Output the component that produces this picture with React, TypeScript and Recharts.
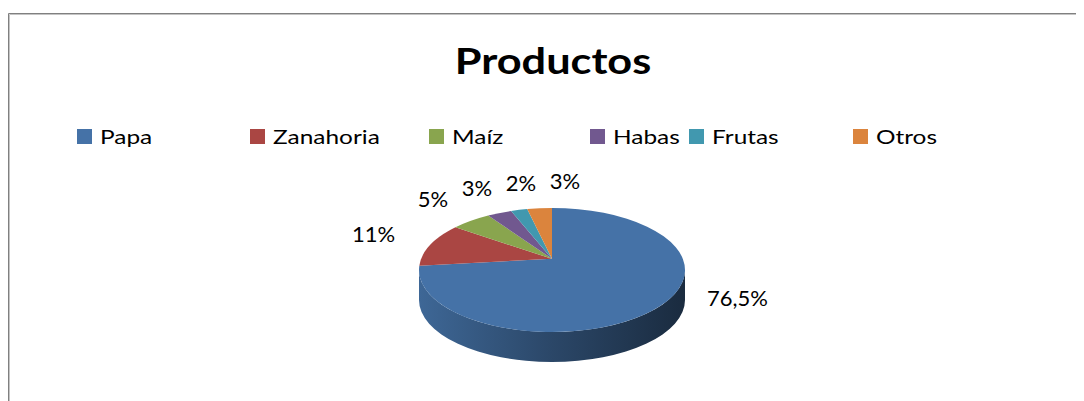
import React from 'react';
import { PieChart, Pie, Cell, Legend } from 'recharts';

const categories = ['Papa', 'Zanahoria', 'Maíz', 'Habas', 'Frutas', 'Otros'];
const shares = [76.5, 11, 5, 3, 2, 3];
const colors = ['#4572A7', '#AA4643', '#89A54E', '#71588F', '#4198AF', '#DB843D'];
const chartTitle = 'Productos';

const data = categories.map((name, i) => ({ name, value: shares[i] }));

const W = 1076;
const H = 393;
const FONT = 'Lato, "Open Sans", sans-serif';
const TILT = 62 / 133;
const DEPTH = 30;
const APEX_LIFT = 0.18;
const RAD = Math.PI / 180;
const legendColumns = [69, 242, 421, 582, 681, 845];

function shade(hex: string, f: number) {
  const n = parseInt(hex.slice(1), 16);
  const r = Math.round(((n >> 16) & 255) * f);
  const g = Math.round(((n >> 8) & 255) * f);
  const b = Math.round((n & 255) * f);
  return `rgb(${r},${g},${b})`;
}

const fmt = (v: number) => String(v).replace('.', ',') + '%';

const Slice3D = (props: any) => {
  const { cx, cy, outerRadius, startAngle, endAngle, fill, index } = props;
  const rx = outerRadius;
  const ry = outerRadius * TILT;
  const apexY = cy - ry * APEX_LIFT;
  const p = (a: number, dy = 0) => [cx + rx * Math.cos(a * RAD), cy - ry * Math.sin(a * RAD) + dy];
  const a1 = startAngle;
  const a2 = endAngle;
  const large = Math.abs(a2 - a1) > 180 ? 1 : 0;
  const sweep = a2 < a1 ? 1 : 0;
  const [x1, y1] = p(a1);
  const [x2, y2] = p(a2);
  const top = `M${cx},${apexY} L${x1},${y1} A${rx},${ry} 0 ${large} ${sweep} ${x2},${y2} Z`;
  const lo = Math.min(a1, a2);
  const hi = Math.max(a1, a2);
  const walls: string[] = [];
  for (let k = -2; k <= 1; k++) {
    const b1 = Math.max(lo, -180 + 360 * k);
    const b2 = Math.min(hi, 360 * k);
    if (b2 - b1 > 0.01) {
      const [u1, v1] = p(b1);
      const [u2, v2] = p(b2);
      const l = b2 - b1 > 180 ? 1 : 0;
      walls.push(
        `M${u1},${v1} A${rx},${ry} 0 ${l} 0 ${u2},${v2} L${u2},${v2 + DEPTH} A${rx},${ry} 0 ${l} 1 ${u1},${v1 + DEPTH} Z`
      );
    }
  }
  const gid = `wall-grad-${index}`;
  return (
    <g>
      <defs>
        <linearGradient id={gid} gradientUnits="userSpaceOnUse" x1={cx - rx} y1={0} x2={cx + rx} y2={0}>
          <stop offset="0%" stopColor={shade(fill, 0.9)} />
          <stop offset="50%" stopColor={shade(fill, 0.62)} />
          <stop offset="100%" stopColor={shade(fill, 0.38)} />
        </linearGradient>
      </defs>
      {walls.map((d, i) => (
        <path key={i} d={d} fill={`url(#${gid})`} stroke="none" />
      ))}
      <path d={top} fill={fill} stroke="none" />
    </g>
  );
};

let prevTopX: number | null = null;
const renderLabel = (props: any) => {
  const { cx, cy, midAngle, outerRadius, index, value } = props;
  if (index === 0) prevTopX = null;
  const s = Math.sin(midAngle * RAD);
  const c = Math.cos(midAngle * RAD);
  const ry = outerRadius * TILT;
  let x: number;
  let y: number;
  let anchor: 'start' | 'middle' | 'end' = 'middle';
  if (s < 0) {
    x = cx + Math.sign(c) * (outerRadius + 22);
    anchor = c > 0 ? 'start' : 'end';
    y = cy - ry * s * 0.6;
  } else {
    x = cx + (outerRadius + 62) * c;
    y = cy - (ry + 28) * s;
    if (prevTopX !== null && x < prevTopX + 44) x = prevTopX + 44;
    prevTopX = x;
  }
  return (
    <text
      x={x}
      y={y}
      textAnchor={anchor}
      dominantBaseline="central"
      fill="#000"
      fontSize={22}
      fontFamily={FONT}
    >
      {fmt(value)}
    </text>
  );
};

const renderLegend = () => (
  <div style={{ position: 'relative', width: W, height: 30 }}>
    {categories.map((name, i) => (
      <div
        key={name}
        style={{
          position: 'absolute',
          left: legendColumns[i],
          top: 0,
          display: 'flex',
          alignItems: 'center',
          height: 30,
          fontFamily: FONT,
          fontSize: 20,
          color: '#000',
          whiteSpace: 'nowrap',
        }}
      >
        <span style={{ display: 'inline-block', width: 15, height: 15, background: colors[i], marginRight: 8 }} />
        <span style={{ display: 'inline-block', transform: 'scaleX(1.22)', transformOrigin: 'left center' }}>{name}</span>
      </div>
    ))}
  </div>
);

export default function App() {
  return (
    <div style={{ width: W, height: H, background: '#fff' }}>
      <PieChart width={W} height={H} margin={{ top: 0, right: 0, bottom: 0, left: 0 }}>
        <path d={`M0.5,${H} L0.5,5.5 L${W},5.5`} fill="none" stroke="#808080" strokeWidth={1} />
        <path d={`M1.5,${H} L1.5,6.5 L${W},6.5`} fill="none" stroke="#c4c4c4" strokeWidth={1} />
        <text
          x={0}
          y={0}
          transform={`translate(545,66) scale(1.17,1)`}
          textAnchor="middle"
          fontFamily={FONT}
          fontWeight={700}
          fontSize={37}
          fill="#000"
        >
          {chartTitle}
        </text>
        <Legend
          layout="horizontal"
          verticalAlign="middle"
          align="center"
          wrapperStyle={{ top: 113, left: 0, width: W }}
          content={renderLegend}
        />
        <Pie
          data={data}
          dataKey="value"
          nameKey="name"
          cx={544}
          cy={262}
          outerRadius={133}
          startAngle={90}
          endAngle={-270}
          stroke="none"
          isAnimationActive={false}
          shape={Slice3D}
          label={renderLabel}
          labelLine={false}
        >
          {data.map((d, i) => (
            <Cell key={d.name} fill={colors[i]} />
          ))}
        </Pie>
      </PieChart>
    </div>
  );
}
